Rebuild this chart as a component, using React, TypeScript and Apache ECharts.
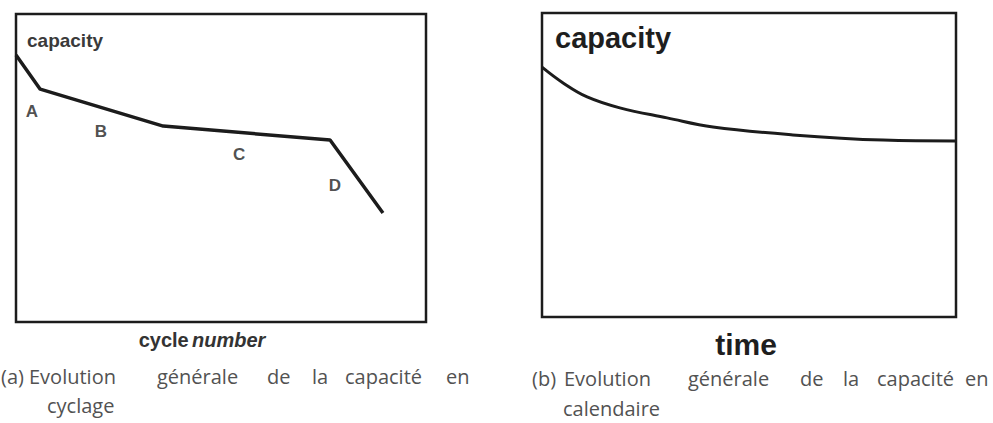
import React, { useEffect, useRef } from "react";
import * as echarts from "echarts";

// Panel (a): capacity vs cycle number (relative units 0-100)
const cycleX = [0, 5.9, 35.9, 76.6, 89.5];
const cycleCapacity = [86.7, 75.6, 63.6, 59.1, 35.4];
const stageLabels = ["A", "B", "C", "D"];
const stageX = [3.9, 20.7, 54.4, 77.8];
const stageY = [68.2, 62.0, 54.5, 44.2];

// Panel (b): capacity vs time (relative units 0-100)
const timeX = [0, 5.1, 10.9, 18.8, 30.2, 41.3, 60.6, 82.4, 100];
const timeCapacity = [82.2, 77.0, 72.4, 68.8, 65.5, 62.5, 59.9, 58.2, 57.9];

// Captions
const captionA = ["(a)", "Evolution", "générale", "de", "la", "capacité", "en"];
const captionAx = [1, 29, 157, 267, 312, 345, 446];
const captionB = ["(b)", "Evolution", "générale", "de", "la", "capacité", "en"];
const captionBx = [532, 564, 688, 800, 843, 877, 965];

export default function App() {
  const ref = useRef<HTMLDivElement>(null);
  useEffect(() => {
    if (!ref.current) return;
    const chart = echarts.init(ref.current, null, { renderer: "svg" });
    const lineColor = "#1c1c1c";
    const capFont = '"Open Sans", sans-serif';
    const capColor = "#525252";
    const capSize = 20;
    const words: any[] = [];
    captionA.forEach((w, i) =>
      words.push({
        type: "text",
        x: captionAx[i],
        y: 376,
        style: { text: w, font: `${capSize}px ${capFont}`, fill: capColor, verticalAlign: "middle" },
      })
    );
    captionB.forEach((w, i) =>
      words.push({
        type: "text",
        x: captionBx[i],
        y: 378,
        style: { text: w, font: `${capSize}px ${capFont}`, fill: capColor, verticalAlign: "middle" },
      })
    );
    words.push({
      type: "text",
      x: 47,
      y: 405,
      style: { text: "cyclage", font: `${capSize}px ${capFont}`, fill: capColor, verticalAlign: "middle" },
    });
    words.push({
      type: "text",
      x: 563,
      y: 408,
      style: { text: "calendaire", font: `${capSize}px ${capFont}`, fill: capColor, verticalAlign: "middle" },
    });

    const option: any = {
      animation: false,
      backgroundColor: "#ffffff",
      grid: [
        { left: 16, top: 14, width: 410, height: 308, show: true, borderColor: lineColor, borderWidth: 2.5, backgroundColor: "transparent" },
        { left: 542, top: 13, width: 414, height: 304, show: true, borderColor: lineColor, borderWidth: 2.5, backgroundColor: "transparent" },
      ],
      xAxis: [
        { type: "value", gridIndex: 0, min: 0, max: 100, show: false },
        { type: "value", gridIndex: 1, min: 0, max: 100, show: false },
      ],
      yAxis: [
        { type: "value", gridIndex: 0, min: 0, max: 100, show: false },
        { type: "value", gridIndex: 1, min: 0, max: 100, show: false },
      ],
      series: [
        {
          type: "line",
          xAxisIndex: 0,
          yAxisIndex: 0,
          data: cycleX.map((x, i) => [x, cycleCapacity[i]]),
          symbol: "none",
          lineStyle: { color: lineColor, width: 3.5 },
        },
        {
          type: "scatter",
          xAxisIndex: 0,
          yAxisIndex: 0,
          data: stageX.map((x, i) => ({ value: [x, stageY[i]], name: stageLabels[i] })),
          symbolSize: 0,
          label: {
            show: true,
            position: "inside",
            formatter: (p: any) => p.name,
            fontFamily: "Arial, Liberation Sans, sans-serif",
            fontWeight: "bold",
            fontSize: 17,
            color: "#222",
          },
        },
        {
          type: "line",
          xAxisIndex: 1,
          yAxisIndex: 1,
          data: timeX.map((x, i) => [x, timeCapacity[i]]),
          symbol: "none",
          smooth: 0.4,
          lineStyle: { color: lineColor, width: 3 },
        },
      ],
      graphic: [
        {
          type: "text",
          x: 27,
          y: 40,
          style: { text: "capacity", font: 'bold 19px "Liberation Sans", Arial, sans-serif', fill: "#3a3a3a", verticalAlign: "middle" },
        },
        {
          type: "text",
          x: 555,
          y: 38,
          style: { text: "capacity", font: 'bold 29px "Liberation Sans", Arial, sans-serif', fill: "#1e1e1e", verticalAlign: "middle" },
        },
        {
          type: "text",
          x: 202,
          y: 340,
          style: {
            text: "{a|cycle} {b|number}",
            align: "center",
            verticalAlign: "middle",
            rich: {
              a: { font: 'bold 20px "Liberation Sans", Arial, sans-serif', fill: "#333" },
              b: { font: 'italic bold 20px "Liberation Sans", Arial, sans-serif', fill: "#333" },
            },
          },
        },
        {
          type: "text",
          x: 746,
          y: 344,
          style: { text: "time", font: 'bold 30px "Liberation Sans", Arial, sans-serif', fill: "#1e1e1e", align: "center", verticalAlign: "middle" },
        },
        ...words,
      ],
    };
    chart.setOption(option);
    return () => chart.dispose();
  }, []);
  return (
    <div
      ref={ref}
      style={{ position: "fixed", left: 0, top: 0, width: 993, height: 423, background: "#fff" }}
    />
  );
}
